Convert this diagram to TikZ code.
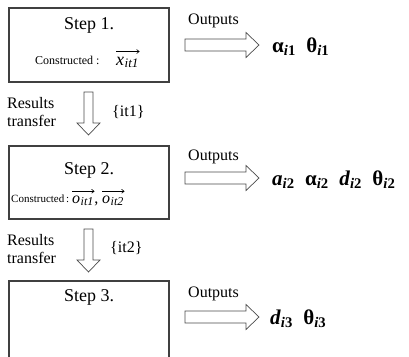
\documentclass[tikz,border=0pt]{standalone}
\usepackage{fontspec}
\setmainfont{Liberation Serif}
\usetikzlibrary{arrows.meta}
\begin{document}
\begin{tikzpicture}[x=1pt,y=-1pt,
  stepbox/.style={draw=black!75,line width=1.1pt},
  arrowline/.style={draw=black!70,line width=0.7pt,fill=white},
  steptitle/.style={font=\fontsize{18}{20}\selectfont,inner sep=0pt},
  plain/.style={font=\fontsize{16}{19}\selectfont,inner sep=0pt},
  constr/.style={font=\fontsize{12}{14}\selectfont,inner sep=0pt,anchor=base west},
  vecsym/.style={font=\itshape,inner sep=0pt,anchor=base west},
  vecarrow/.style={line width=0.6pt,-{Straight Barb[length=2.5pt,width=4pt]}},
  outvars/.style={font=\fontsize{21}{24}\selectfont\bfseries,inner sep=0pt,anchor=west},
  rarrow/.pic={\draw[arrowline] (0,-6)--(61,-6)--(61,-12.5)--(74,0)--(61,12.5)--(61,6)--(0,6)--cycle;},
  darrow/.pic={\draw[arrowline] (-4.5,0)--(-4.5,31)--(-11.5,31)--(0,43)--(11.5,31)--(4.5,31)--(4.5,0)--cycle;}
]
\useasboundingbox (0,0) rectangle (409,356);

% step boxes
\draw[stepbox] (9,8) rectangle (169,82);
\draw[stepbox] (9,146) rectangle (169,219);
\draw[stepbox] (9,357) -- (9,281) -- (169,281) -- (169,357);

\node[steptitle] (s1) at (89,25) {Step 1.};
\node[steptitle] (s2) at (89,170) {Step 2.};
\node[steptitle] (s3) at (89,297) {Step 3.};

% constructed vectors
\node[constr] (c1) at (35,64) {Constructed :};
\node[vecsym] (x1) at (116,65) {\fontsize{18}{18}\selectfont x\kern0.5pt\raisebox{-2.5pt}{\fontsize{13}{13}\selectfont it1}};
\draw[vecarrow] ([yshift=5pt]x1.north west) -- ([yshift=5pt,xshift=1pt]x1.north east);

\node[constr,font=\fontsize{11}{13}\selectfont] (c2) at (11,202) {Constructed\,:};
\node[vecsym] (x2) at (72,203) {\fontsize{16}{16}\selectfont o\kern0.5pt\raisebox{-2pt}{\fontsize{12}{12}\selectfont it1}};
\node[vecsym] (x3) at (102,203) {\fontsize{16}{16}\selectfont o\kern0.5pt\raisebox{-2pt}{\fontsize{12}{12}\selectfont it2}};
\node[vecsym,font=\fontsize{16}{16}\selectfont] (cm) at ([xshift=0.5pt]x2.base east) {,};
\draw[vecarrow] ([yshift=4pt]x2.north west) -- ([yshift=4pt,xshift=1pt]x2.north east);
\draw[vecarrow] ([yshift=4pt]x3.north west) -- ([yshift=4pt,xshift=1pt]x3.north east);

% transfer arrows between steps
\pic at (88.5,92) {darrow};
\pic at (88.5,229) {darrow};
\node[plain,anchor=west,align=left] (r1) at (7,112) {Results\\[-1pt]transfer};
\node[plain,anchor=west,align=left] (r2) at (7,249) {Results\\[-1pt]transfer};
\node[plain,anchor=west] (t1) at (112,112) {\{it1\}};
\node[plain,anchor=west] (t2) at (110,248) {\{it2\}};

% output arrows
\pic at (185,45) {rarrow};
\pic at (185,178) {rarrow};
\pic at (185,317) {rarrow};
\node[plain,anchor=west] (o1) at (188,21) {Outputs};
\node[plain,anchor=west] (o2) at (188,157) {Outputs};
\node[plain,anchor=west] (o3) at (188,294) {Outputs};

\node[outvars] (v1) at (272,47) {α\textsubscript{\textit{i}1}\ \ θ\textsubscript{\textit{i}1}};
\node[outvars] (v2) at (272,180) {\textit{a}\textsubscript{\textit{i}2}\ \ α\textsubscript{\textit{i}2}\ \ \textit{d}\textsubscript{\textit{i}2}\ \ θ\textsubscript{\textit{i}2}};
\node[outvars] (v3) at (270,319) {\textit{d}\textsubscript{\textit{i}3}\ \ θ\textsubscript{\textit{i}3}};
\end{tikzpicture}
\end{document}
